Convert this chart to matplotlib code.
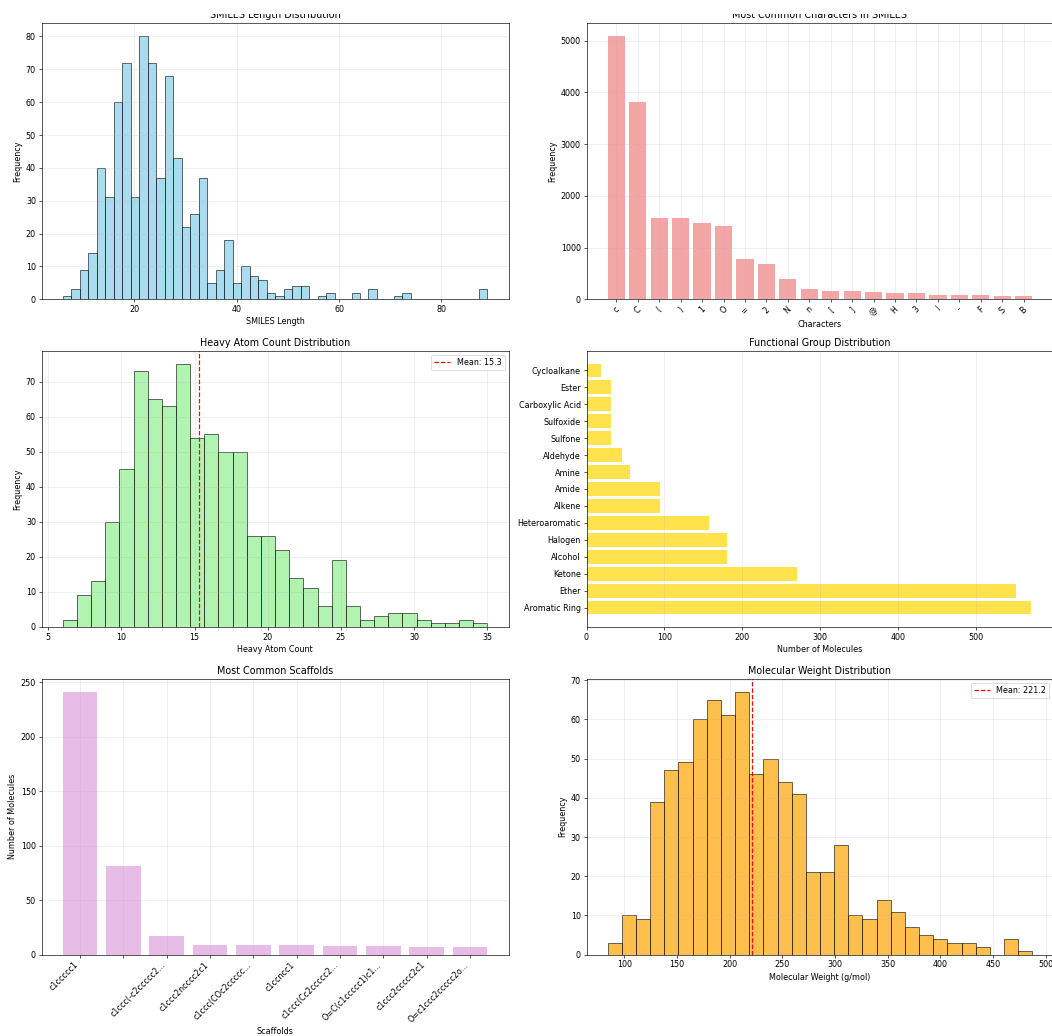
import numpy as np
import matplotlib
matplotlib.use('Agg')
import matplotlib.pyplot as plt
from matplotlib.patches import Rectangle

# ---- data ----
# SMILES length histogram (50 bins from 6 to 89)
smiles_range = (6, 89)
smiles_counts = [1, 3, 9, 14, 40, 31, 60, 72, 31, 80,
                 72, 37, 68, 43, 22, 26, 37, 5, 9, 18,
                 5, 10, 7, 6, 2, 1, 3, 4, 4, 0,
                 1, 2, 0, 0, 2, 0, 3, 0, 0, 1,
                 2, 0, 0, 0, 0, 0, 0, 0, 0, 3]

# most common characters
chars = ['c', 'C', '(', ')', '1', 'O', '=', '2', 'N', 'n',
         '[', ']', '@', 'H', '3', 'l', '-', 'F', 'S', 'B']
char_counts = [5080, 3810, 1565, 1565, 1467, 1415, 778, 682, 399, 193,
               154, 154, 140, 116, 116, 84, 77, 77, 64, 64]

# heavy atom count histogram (30 bins from 6 to 35)
heavy_range = (6, 35)
heavy_counts = [2, 9, 13, 30, 45, 73, 65, 63, 75, 54,
                55, 50, 50, 26, 26, 22, 14, 11, 6, 19,
                6, 2, 3, 4, 4, 2, 1, 1, 2, 1]
heavy_mean = 15.3

# functional groups
groups = ['Aromatic Ring', 'Ether', 'Ketone', 'Alcohol', 'Halogen',
          'Heteroaromatic', 'Alkene', 'Amide', 'Amine', 'Aldehyde',
          'Sulfone', 'Sulfoxide', 'Carboxylic Acid', 'Ester', 'Cycloalkane']
group_counts = [571, 552, 270, 181, 180, 157, 95, 94, 56, 45,
                32, 32, 31, 31, 18]

# scaffolds (second one is the empty scaffold of acyclic molecules)
scaffolds = ['c1ccccc1', '', 'c1ccc(-c2ccccc2...', 'c1ccc2ncccc2c1',
             'c1ccc(COc2ccccc...', 'c1ccncc1', 'c1ccc(Cc2ccccc2...',
             'O=C(c1ccccc1)c1...', 'c1ccc2ccccc2c1', 'O=c1ccc2ccccc2o...']
scaffold_counts = [241, 81, 17, 9, 9, 9, 8, 8, 7, 7]

# molecular weight histogram (30 bins from 84.2 to 487.2)
mw_range = (84.2, 487.2)
mw_counts = [3, 10, 9, 39, 47, 49, 60, 65, 61, 67,
             46, 50, 44, 41, 21, 21, 28, 10, 9, 14,
             11, 7, 5, 4, 3, 3, 2, 0, 4, 1]
mw_mean = 221.2


def draw_hist(ax, rng, counts, color):
    edges = np.linspace(rng[0], rng[1], len(counts) + 1)
    centers = (edges[:-1] + edges[1:]) / 2
    ax.hist(centers, bins=edges, weights=counts, color=color,
            alpha=0.7, edgecolor='black')


# ---- figure ----
W, H, DPI = 1052, 1036, 58
fig = plt.figure(figsize=(W / DPI, H / DPI), dpi=DPI)

col_left = [41.6 / W, 586.5 / W]
col_w = 467 / W
row_bottom = [1 - 299.3 / H, 1 - 627 / H, 1 - 954.7 / H]
row_h = 276 / H

axes = [[fig.add_axes([col_left[c], row_bottom[r], col_w, row_h]) for c in range(2)]
        for r in range(3)]

# 1. SMILES length
ax = axes[0][0]
draw_hist(ax, smiles_range, smiles_counts, 'skyblue')
ax.set_title('SMILES Length Distribution')
ax.set_xlabel('SMILES Length')
ax.set_ylabel('Frequency')
ax.grid(True, alpha=0.3)

# 2. characters
ax = axes[0][1]
ax.bar(chars, char_counts, color='lightcoral', alpha=0.7)
ax.set_title('Most Common Characters in SMILES')
ax.set_xlabel('Characters')
ax.set_ylabel('Frequency')
ax.tick_params(axis='x', rotation=45)
ax.grid(True, alpha=0.3)

# 3. heavy atoms
ax = axes[1][0]
draw_hist(ax, heavy_range, heavy_counts, 'lightgreen')
ax.axvline(heavy_mean, color='red', linestyle='--', label=f'Mean: {heavy_mean:.1f}')
ax.set_title('Heavy Atom Count Distribution')
ax.set_xlabel('Heavy Atom Count')
ax.set_ylabel('Frequency')
ax.legend(loc='upper right')
ax.grid(True, alpha=0.3)

# 4. functional groups
ax = axes[1][1]
ax.barh(groups, group_counts, color='gold', alpha=0.7)
ax.set_title('Functional Group Distribution')
ax.set_xlabel('Number of Molecules')
ax.grid(True, axis='x', alpha=0.3)

# 5. scaffolds
ax = axes[2][0]
ax.bar(range(len(scaffolds)), scaffold_counts, color='plum', alpha=0.7)
ax.set_xticks(range(len(scaffolds)))
ax.set_xticklabels(scaffolds, rotation=45, ha='right')
ax.set_title('Most Common Scaffolds')
ax.set_xlabel('Scaffolds')
ax.set_ylabel('Number of Molecules')
ax.grid(True, alpha=0.3)

# 6. molecular weight
ax = axes[2][1]
draw_hist(ax, mw_range, mw_counts, 'orange')
ax.axvline(mw_mean, color='red', linestyle='--', label=f'Mean: {mw_mean:.1f}')
ax.set_title('Molecular Weight Distribution')
ax.set_xlabel('Molecular Weight (g/mol)')
ax.set_ylabel('Frequency')
ax.set_xticks(np.arange(100, 501, 50))
ax.legend(loc='upper right')
ax.grid(True, alpha=0.3)

# the reference is cropped: the top strip hides the upper half of the first-row titles
fig.add_artist(Rectangle((0, 1 - 14 / H), 1, 14 / H, transform=fig.transFigure,
                         facecolor='white', edgecolor='none', zorder=10))

fig.savefig('out.png', dpi=DPI)
